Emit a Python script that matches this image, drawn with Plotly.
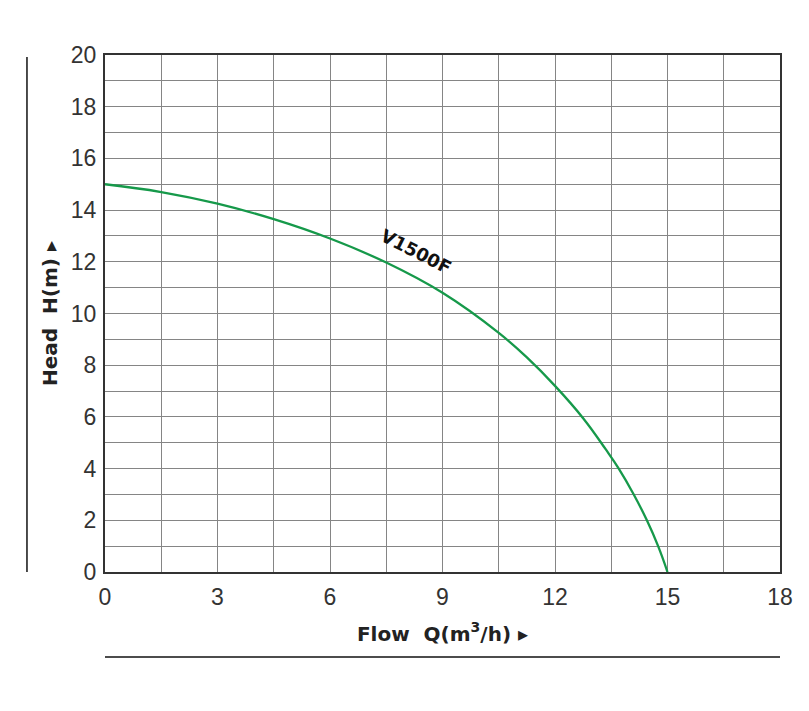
import plotly.graph_objects as go

# Pump curve V1500F: flow Q (m³/h) vs head H (m)
flow = [0, 1.5, 3, 4.5, 6, 7.5, 9, 10.5, 11.25, 12, 12.75, 13.35, 13.7, 14.1, 14.45, 14.75, 15]
head = [15.0, 14.7, 14.25, 13.65, 12.9, 11.97, 10.8, 9.25, 8.3, 7.2, 5.95, 4.75, 4.0, 3.0, 2.0, 1.0, 0]

x_ticks = [0, 3, 6, 9, 12, 15, 18]
y_ticks = [0, 2, 4, 6, 8, 10, 12, 14, 16, 18, 20]

curve_label = "V1500F"
x_title = "Flow  Q(m<sup>3</sup>/h) ▸"
y_title = "Head  H(m) ▸"

fig = go.Figure()
fig.add_trace(go.Scatter(
    x=flow, y=head, mode="lines",
    line=dict(color="#16994a", width=2.3, shape="spline", smoothing=1.2),
    showlegend=False, hoverinfo="skip",
))

fig.add_annotation(
    x=8.3, y=12.4, text=curve_label, showarrow=False, textangle=27,
    font=dict(family="DejaVu Sans", size=18, color="#111", weight="bold"),
)

tick_font = dict(family="Liberation Sans", size=23, color="#333")
title_font = dict(family="DejaVu Sans", size=20, color="#222", weight="bold")

fig.update_xaxes(
    range=[0, 18], tickvals=x_ticks, ticktext=[str(v) for v in x_ticks],
    showgrid=True, gridcolor="#858585", gridwidth=1.3,
    minor=dict(dtick=1.5, tick0=0, showgrid=True, gridcolor="#858585", gridwidth=1.3),
    showline=True, linecolor="#333", linewidth=2, mirror=True,
    ticks="outside", ticklen=3, tickcolor="rgba(0,0,0,0)",
    tickfont=tick_font, zeroline=False,
    title=dict(text=x_title, font=title_font, standoff=18),
)
fig.update_yaxes(
    range=[0, 20], tickvals=y_ticks, ticktext=[str(v) for v in y_ticks],
    showgrid=True, gridcolor="#858585", gridwidth=1.3,
    minor=dict(dtick=1, tick0=0, showgrid=True, gridcolor="#858585", gridwidth=1.3),
    showline=True, linecolor="#333", linewidth=2, mirror=True,
    ticks="outside", ticklen=2, tickcolor="rgba(0,0,0,0)",
    tickfont=tick_font, zeroline=False,
    title=dict(text=y_title, font=title_font, standoff=8),
)

# decorative rules outside the plot
fig.add_shape(type="line", xref="paper", yref="paper",
              x0=-0.1156, x1=-0.1156, y0=0.0, y1=0.996,
              line=dict(color="#111", width=1.5))
fig.add_shape(type="line", xref="paper", yref="paper",
              x0=0, x1=1, y0=-0.1644, y1=-0.1644,
              line=dict(color="#111", width=1.5))

fig.update_layout(
    width=801, height=703,
    margin=dict(l=97, r=29, t=47, b=139, autoexpand=False),
    plot_bgcolor="white", paper_bgcolor="white",
)

fig.write_html("out.html")
